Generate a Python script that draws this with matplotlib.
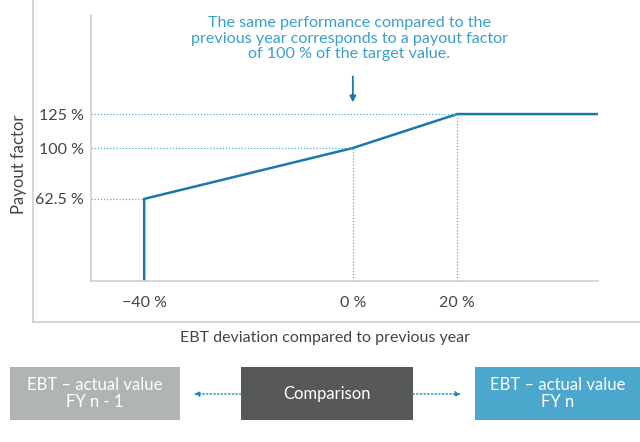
import matplotlib
matplotlib.use("Agg")
from matplotlib import pyplot as plt
from matplotlib.patches import Rectangle

plt.rcParams['font.family'] = ['Lato', 'DejaVu Sans']

# curve data
ebt_dev = [-40, -40, 0, 20, 47]
payout = [2, 62.5, 100, 125, 125]
xticks = [-40, 0, 20]
xlabels = ['\u221240 %', '0 %', '20 %']
yticks = [62.5, 100, 125]
ylabels = ['62.5 %', '100 %', '125 %']

boxes = ['EBT \u2013 actual value\nFY n - 1', 'Comparison', 'EBT \u2013 actual value\nFY n']
box_colors = ['#b1b4b4', '#575958', '#4ba7cc']

line_col = '#1b78ab'
dot_col = '#4fb0d6'
grey = '#cfcfcf'
txt = '#444444'

fig = plt.figure(figsize=(6.4, 4.42), dpi=100)

# overlay axes in pixel coords for frame and boxes
bg = fig.add_axes([0, 0, 1, 1])
bg.set_xlim(0, 640)
bg.set_ylim(442, 0)
bg.axis('off')
bg.plot([33, 33], [0, 322], color=grey, lw=1.2)
bg.plot([33, 640], [322, 322], color=grey, lw=1.2)
bg.text(325, 338, 'EBT deviation compared to previous year', ha='center', va='center',
        fontsize=11.5, color=txt)

box_x = [10, 241, 475]
box_w = [170, 172, 165]
for bx, bw, lab, c in zip(box_x, box_w, boxes, box_colors):
    bg.add_patch(Rectangle((bx, 367), bw, 53, color=c, lw=0))
    bg.text(bx + bw / 2, 393.5, lab, ha='center', va='center', fontsize=12,
            color='white', linespacing=1.05)
bg.annotate('', xy=(194, 394), xytext=(241, 394),
            arrowprops=dict(arrowstyle='-|>', ls=':', color='#1a8ab8', lw=1,
                            mutation_scale=8, shrinkA=0, shrinkB=0))
bg.annotate('', xy=(461, 394), xytext=(413, 394),
            arrowprops=dict(arrowstyle='-|>', ls=':', color='#1a8ab8', lw=1,
                            mutation_scale=8, shrinkA=0, shrinkB=0))

ax = fig.add_axes([91 / 640, 1 - 281 / 442, 507 / 640, 266 / 442])
ax.patch.set_alpha(0)
ax.set_xlim(-50.2, 47)
ax.set_ylim(2, 198)

ax.plot(ebt_dev, payout, color=line_col, lw=1.8, solid_joinstyle='miter')

# dotted helper lines
for xv, yv in zip(ebt_dev[1:4], payout[1:4]):
    ax.plot([-50.2, xv], [yv, yv], color=dot_col, lw=0.9, ls=(0, (1, 1.5)))
for xv, yv in zip(ebt_dev[2:4], payout[2:4]):
    ax.plot([xv, xv], [2, yv], color=dot_col, lw=0.9, ls=(0, (1, 1.5)))

for s in ['top', 'right']:
    ax.spines[s].set_visible(False)
for s in ['left', 'bottom']:
    ax.spines[s].set_color(grey)
    ax.spines[s].set_linewidth(1.2)

ax.set_xticks(xticks)
ax.set_xticklabels(xlabels, fontsize=11.5, color=txt)
ax.set_yticks(yticks)
ax.set_yticklabels(ylabels, fontsize=11.5, color=txt)
ax.tick_params(length=0, pad=5)
ax.tick_params(axis='x', pad=11)
ax.set_ylabel('Payout factor', fontsize=12, color=txt)
ax.yaxis.set_label_coords(-0.126, 0.44)

ax.annotate('', xy=(0, 133.6), xytext=(0, 152.7),
            arrowprops=dict(arrowstyle='-|>', color=line_col, lw=1.3,
                            mutation_scale=9, shrinkA=0, shrinkB=0))
ax.text(-0.7, 180.5, 'The same performance compared to the\n'
        'previous year corresponds to a payout factor\n'
        'of 100 % of the target value.', ha='center', va='center',
        fontsize=11.6, color='#3a9fc9', linespacing=1.12)

fig.savefig('out.png', dpi=100)
